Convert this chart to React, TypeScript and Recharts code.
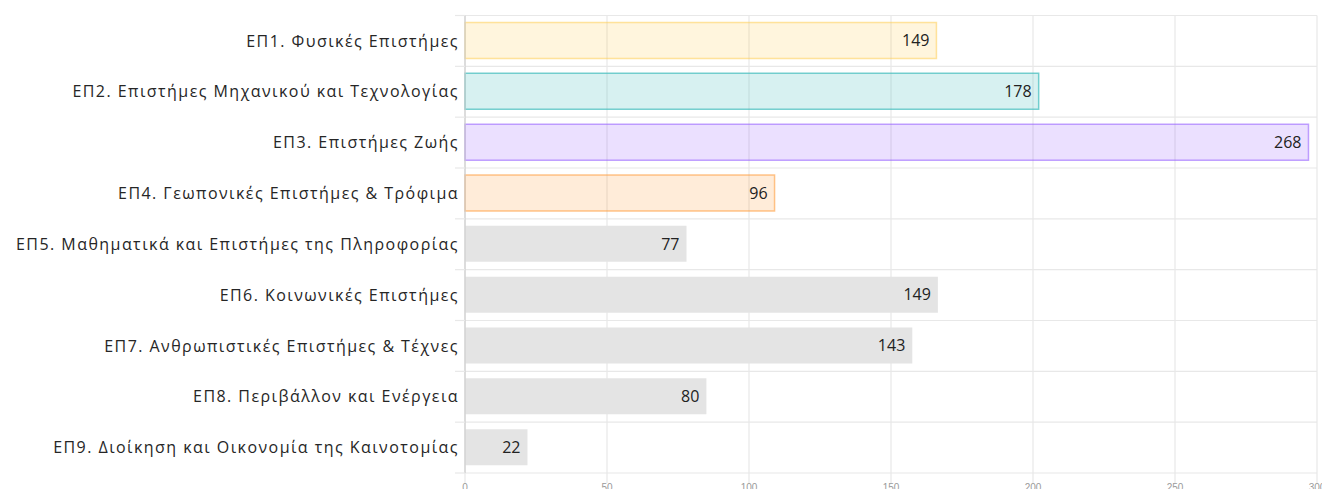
import React from 'react';
import {
  BarChart,
  Bar,
  XAxis,
  YAxis,
  CartesianGrid,
  Cell,
  LabelList,
} from 'recharts';

// categories (top to bottom)
const categories = [
  'ΕΠ1. Φυσικές Επιστήμες',
  'ΕΠ2. Επιστήμες Μηχανικού και Τεχνολογίας',
  'ΕΠ3. Επιστήμες Ζωής',
  'ΕΠ4. Γεωπονικές Επιστήμες & Τρόφιμα',
  'ΕΠ5. Μαθηματικά και Επιστήμες της Πληροφορίας',
  'ΕΠ6. Κοινωνικές Επιστήμες',
  'ΕΠ7. Ανθρωπιστικές Επιστήμες & Τέχνες',
  'ΕΠ8. Περιβάλλον και Ενέργεια',
  'ΕΠ9. Διοίκηση και Οικονομία της Καινοτομίας',
];

// bar lengths as drawn on the axis
const barValues = [166, 202, 297, 109, 78, 166.5, 157.5, 85, 22];

// numbers printed on the bars
const barLabels = [149, 178, 268, 96, 77, 149, 143, 80, 22];

const xTicks = [0, 50, 100, 150, 200, 250, 300];

const fills = [
  'rgba(255, 205, 86, 0.2)',
  'rgba(75, 192, 192, 0.22)',
  'rgba(153, 102, 255, 0.2)',
  'rgba(255, 159, 64, 0.2)',
  '#e4e4e4',
  '#e4e4e4',
  '#e4e4e4',
  '#e4e4e4',
  '#e4e4e4',
];
const strokes = [
  'rgba(255, 205, 86, 0.55)',
  'rgba(75, 192, 192, 0.75)',
  'rgba(153, 102, 255, 0.6)',
  'rgba(255, 159, 64, 0.6)',
  'none',
  'none',
  'none',
  'none',
  'none',
];

const data = categories.map((name, i) => ({
  name,
  value: barValues[i],
  label: barLabels[i],
}));

const W = 1322;
const H = 481;
const M = { top: 7.5, right: 13, left: 0, bottom: 0 };
const X_AXIS_H = 16;
const band = (H - M.top - M.bottom - X_AXIS_H) / categories.length;

const gridColor = '#e8e8e8';
const font = '"Open Sans", "Noto Sans", sans-serif';

// category label plus the short grid stubs left of the axis
function CategoryTick(props: any) {
  const { x, y, payload, index } = props;
  const axisX = x + 6;
  const half = band / 2;
  return (
    <g>
      <line x1={axisX - 10} x2={axisX} y1={y - half} y2={y - half} stroke={gridColor} strokeWidth={1.2} />
      {index === categories.length - 1 && (
        <line x1={axisX - 10} x2={axisX} y1={y + half} y2={y + half} stroke={gridColor} strokeWidth={1.2} />
      )}
      <text
        x={x}
        y={y}
        dy="0.35em"
        textAnchor="end"
        fill="#262626"
        fontSize={16}
        fontFamily={font}
        letterSpacing={1.45}
      >
        {payload.value}
      </text>
    </g>
  );
}

export default function App() {
  return (
    <div style={{ width: W, height: H }}>
      <BarChart
        width={W}
        height={H}
        data={data}
        layout="vertical"
        barSize={36}
        margin={M}
      >
        <CartesianGrid
          stroke={gridColor}
          strokeWidth={1.2}
          horizontalCoordinatesGenerator={({ offset }: any) =>
            categories
              .map((_, i) => offset.top + i * band)
              .concat([offset.top + categories.length * band])
          }
        />
        <YAxis
          type="category"
          dataKey="name"
          width={457}
          tickLine={false}
          tickSize={0}
          tickMargin={6}
          axisLine={{ stroke: '#cfcfcf', strokeWidth: 1.2 }}
          tick={<CategoryTick />}
          interval={0}
        />
        <XAxis
          type="number"
          domain={[0, 300]}
          ticks={xTicks}
          height={X_AXIS_H}
          axisLine={false}
          tickSize={10}
          tickMargin={1}
          tickLine={{ stroke: gridColor, strokeWidth: 1.2 }}
          tick={{ fill: '#9a9a9a', fontSize: 10, fontFamily: 'Liberation Sans, Arial, sans-serif' }}
        />
        <Bar dataKey="value" isAnimationActive={false} strokeWidth={1.5}>
          {data.map((d, i) => (
            <Cell key={d.name} fill={fills[i]} stroke={strokes[i]} />
          ))}
          <LabelList
            dataKey="label"
            position="insideRight"
            offset={7}
            fill="#222"
            fontSize={16}
            fontFamily={font}
          />
        </Bar>
      </BarChart>
    </div>
  );
}
